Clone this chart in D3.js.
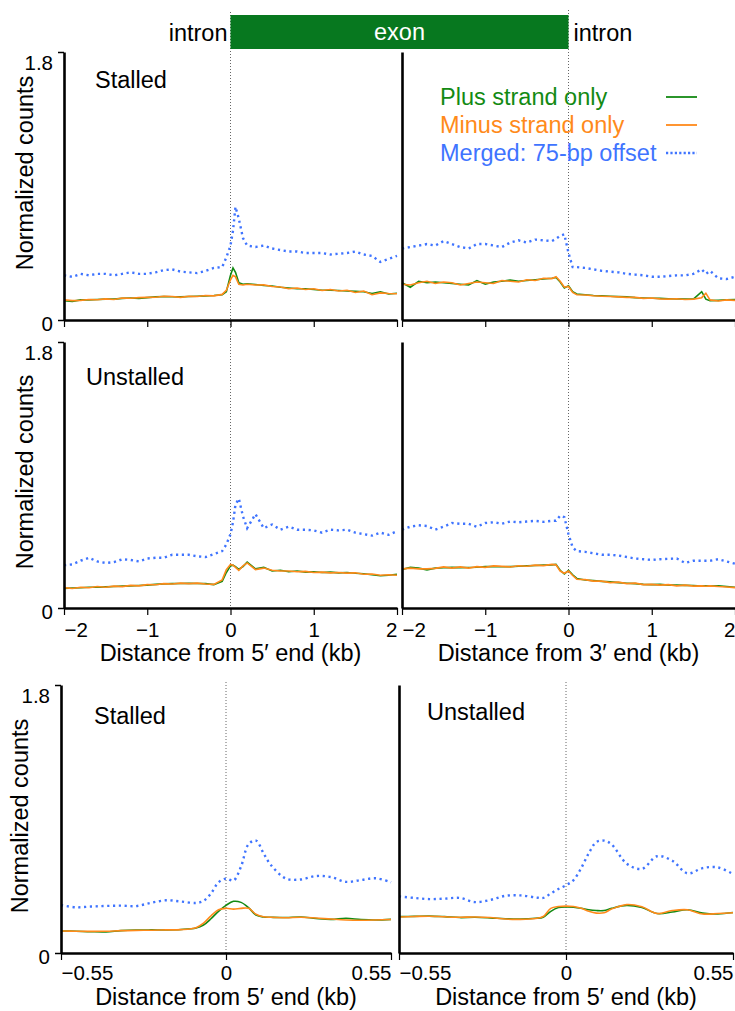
<!DOCTYPE html>
<html>
<head>
<meta charset="utf-8">
<script src="https://cdn.jsdelivr.net/npm/d3@7"></script>
<style>
  body { margin: 0; background: #fff; }
  svg { display: block; font-family: "Liberation Sans", Arial, sans-serif; }
</style>
</head>
<body>
<svg id="chart" width="735" height="1011"></svg>
<script>
// ---- data ----
const X5 = [-2,-1.9,-1.8,-1.7,-1.6,-1.5,-1.4,-1.3,-1.2,-1.1,-1,-0.9,-0.8,-0.7,-0.6,-0.5,-0.4,-0.3,-0.2,-0.1,
  -0.05,0,0.03,0.06,0.1,0.15,0.2,0.3,0.4,0.5,0.6,0.7,0.8,0.9,1,1.1,1.2,1.3,1.4,1.5,1.6,1.7,1.8,1.9,2]
const X3 = [-2,-1.9,-1.8,-1.7,-1.6,-1.5,-1.4,-1.3,-1.2,-1.1,-1,-0.9,-0.8,-0.7,-0.6,-0.5,-0.4,-0.3,-0.2,
  -0.15,-0.1,-0.05,0,0.05,0.1,0.2,0.3,0.4,0.5,0.6,0.7,0.8,0.9,1,1.1,1.2,1.3,1.4,1.5,1.6,1.65,1.7,1.8,1.9,2]
const XB = [-0.55,-0.5,-0.45,-0.4,-0.35,-0.3,-0.25,-0.2,-0.15,-0.1,-0.075,-0.05,-0.025,0,0.025,0.05,0.075,0.1,0.125,0.15,
  0.2,0.25,0.3,0.35,0.4,0.45,0.5,0.55]

// stalled, 5' end
const stalled5Merged = [0.30,0.29,0.31,0.30,0.31,0.31,0.30,0.31,0.32,0.31, 0.31,0.32,0.335,0.34,0.325,0.32,0.315,0.33,0.35,0.355,
  0.42,0.50,0.60,0.76,0.68,0.55,0.50, 0.49,0.50,0.48,0.47,0.46,0.46,0.45,0.45,0.45, 0.44,0.445,0.45,0.46,0.44,0.43,0.39,0.41,0.43]
const stalled5Plus = [0.13,0.125,0.135,0.135,0.138,0.14,0.14,0.145,0.148,0.145, 0.15,0.155,0.158,0.156,0.155,0.158,0.16,0.162,0.165,0.17,
  0.19,0.30,0.35,0.32,0.25,0.24,0.243, 0.238,0.232,0.228,0.22,0.215,0.21,0.21,0.205,0.20, 0.20,0.198,0.195,0.192,0.19,0.178,0.19,0.175,0.18]
const stalled5Minus = [0.135,0.13,0.132,0.138,0.136,0.142,0.138,0.148,0.146,0.15, 0.152,0.153,0.16,0.158,0.152,0.16,0.158,0.165,0.162,0.172,
  0.20,0.27,0.30,0.29,0.24,0.235,0.24, 0.235,0.236,0.225,0.222,0.21,0.215,0.205,0.21,0.198, 0.205,0.195,0.2,0.185,0.195,0.17,0.182,0.178,0.176]

// stalled, 3' end
const stalled3Merged = [0.48,0.49,0.50,0.51,0.50,0.53,0.51,0.49,0.48,0.51, 0.51,0.50,0.49,0.52,0.535,0.52,0.54,0.535,0.53,
  0.545,0.565,0.575,0.45,0.355,0.355, 0.35,0.34,0.33,0.325,0.32,0.31,0.305,0.30,0.29,0.29,0.295,0.30,0.30,0.31,0.34,
  0.31,0.33,0.28,0.275,0.29]
const stalled3Plus = [0.25,0.22,0.26,0.25,0.255,0.25,0.245,0.24,0.235,0.265, 0.24,0.255,0.26,0.268,0.26,0.265,0.27,0.275,0.28,
  0.285,0.255,0.215,0.23,0.19,0.175, 0.17,0.165,0.162,0.16,0.157,0.155,0.15,0.148,0.146,0.145,0.143,0.142,0.141,0.14,0.19,
  0.14,0.13,0.132,0.135,0.138]
const stalled3Minus = [0.24,0.235,0.25,0.26,0.245,0.255,0.25,0.235,0.245,0.255, 0.25,0.245,0.265,0.26,0.255,0.27,0.265,0.28,0.278,
  0.29,0.26,0.22,0.225,0.185,0.17, 0.168,0.163,0.16,0.158,0.155,0.152,0.152,0.145,0.148,0.142,0.14,0.143,0.138,0.14,0.15,
  0.18,0.135,0.128,0.135,0.132]

// unstalled, 5' end
const unstalled5Merged = [0.29,0.295,0.32,0.34,0.315,0.305,0.31,0.33,0.325,0.315, 0.335,0.34,0.34,0.36,0.36,0.36,0.35,0.345,0.365,0.385,
  0.43,0.50,0.58,0.70,0.74,0.62,0.54, 0.635,0.54,0.565,0.53,0.55,0.53,0.53,0.525,0.51, 0.53,0.525,0.53,0.51,0.50,0.49,0.51,0.495,0.52]
const unstalled5Plus = [0.133,0.135,0.137,0.14,0.14,0.143,0.145,0.148,0.15,0.152, 0.155,0.16,0.163,0.165,0.166,0.167,0.166,0.165,0.158,0.18,
  0.24,0.285,0.29,0.28,0.262,0.28,0.31, 0.265,0.275,0.25,0.255,0.245,0.25,0.243,0.245,0.24, 0.243,0.238,0.24,0.235,0.232,0.225,0.218,0.222,0.228]
const unstalled5Minus = [0.138,0.132,0.14,0.137,0.145,0.14,0.148,0.145,0.153,0.15, 0.158,0.157,0.165,0.162,0.168,0.165,0.168,0.162,0.16,0.19,
  0.26,0.295,0.29,0.275,0.255,0.285,0.305, 0.26,0.27,0.255,0.25,0.25,0.245,0.248,0.24,0.243, 0.238,0.24,0.236,0.238,0.228,0.23,0.222,0.225,0.222]

// unstalled, 3' end
const unstalled3Merged = [0.53,0.55,0.56,0.555,0.53,0.55,0.575,0.57,0.57,0.55, 0.575,0.58,0.57,0.585,0.58,0.585,0.59,0.583,0.59,
  0.59,0.625,0.615,0.50,0.41,0.385, 0.38,0.37,0.36,0.36,0.355,0.345,0.335,0.33,0.325,0.33,0.333,0.335,0.305,0.32,0.32,
  0.32,0.32,0.33,0.315,0.30]
const unstalled3Plus = [0.26,0.275,0.27,0.258,0.27,0.272,0.275,0.273,0.274,0.276, 0.28,0.28,0.279,0.28,0.283,0.285,0.288,0.29,0.292,
  0.295,0.255,0.23,0.255,0.225,0.20, 0.19,0.185,0.18,0.177,0.172,0.168,0.165,0.16,0.158,0.16,0.155,0.155,0.153,0.152,0.148,
  0.15,0.148,0.15,0.145,0.14]
const unstalled3Minus = [0.265,0.27,0.265,0.265,0.268,0.278,0.27,0.278,0.27,0.28, 0.275,0.285,0.282,0.278,0.286,0.283,0.29,0.287,0.295,
  0.292,0.25,0.235,0.25,0.22,0.195, 0.192,0.182,0.182,0.172,0.175,0.165,0.168,0.158,0.16,0.155,0.158,0.15,0.155,0.148,0.15,
  0.147,0.15,0.145,0.142,0.138]

// bottom row, +/-0.55 kb around 5' end
const stalledBMerged = [0.322,0.307,0.312,0.316,0.318,0.315,0.337,0.354,0.346,0.336,
  0.35,0.40,0.475,0.50,0.487,0.58,0.73,0.755,0.67,0.59, 0.50,0.494,0.517,0.51,0.478,0.49,0.502,0.475]
const stalledBPlus = [0.148,0.146,0.143,0.142,0.15,0.154,0.155,0.155,0.158,0.168,
  0.188,0.23,0.28,0.32,0.347,0.34,0.305,0.255,0.242,0.24, 0.238,0.242,0.232,0.226,0.233,0.225,0.222,0.226]
const stalledBMinus = [0.148,0.146,0.145,0.146,0.15,0.152,0.153,0.155,0.157,0.17,
  0.20,0.25,0.29,0.30,0.295,0.30,0.30,0.26,0.243,0.24, 0.237,0.24,0.235,0.228,0.222,0.22,0.222,0.225]
const unstalledBMerged = [0.38,0.37,0.362,0.365,0.37,0.342,0.356,0.384,0.387,0.373,
  0.37,0.40,0.43,0.455,0.49,0.57,0.67,0.745,0.755,0.73, 0.60,0.565,0.65,0.62,0.535,0.57,0.575,0.53]
const unstalledBPlus = [0.244,0.246,0.248,0.244,0.238,0.24,0.236,0.23,0.228,0.233,
  0.24,0.28,0.305,0.31,0.307,0.30,0.29,0.285,0.285,0.30, 0.32,0.305,0.265,0.275,0.29,0.268,0.262,0.272]
const unstalledBMinus = [0.242,0.245,0.247,0.243,0.24,0.242,0.238,0.228,0.226,0.232,
  0.245,0.30,0.312,0.315,0.312,0.30,0.28,0.268,0.27,0.295, 0.325,0.31,0.265,0.285,0.29,0.262,0.265,0.27]

const ticksKb = [-2, -1, 0, 1, 2]
const tickLabelsKb = ['\u22122', '\u22121', '0', '1', '2']
const ticksB = [-0.55, 0, 0.55]
const tickLabelsB = ['\u22120.55', '0', '0.55']
const yTicks = [0, 1.8]
const yTickLabels = ['0', '1.8']
const legendLabels = ['Plus strand only', 'Minus strand only', 'Merged: 75-bp offset']

// ---- styles ----
const COLORS = { plus: '#138a13', minus: '#ff8a1a', merged: '#3f74ff' }
const FONT = 23.5
const TICK_FONT = 20.5

const svg = d3.select('#chart')

const panels = [
  { xs: X5, merged: stalled5Merged, plus: stalled5Plus, minus: stalled5Minus,
    dom: [-2, 2], xr: [64, 397], yr: [320, 52], ticks: ticksKb, tickLabels: null,
    yAxisLabels: true, tag: 'Stalled', tagPos: [95, 88], zero: [12, 340], curve: d3.curveLinear,
    yTitle: [33, 173] },
  { xs: X3, merged: stalled3Merged, plus: stalled3Plus, minus: stalled3Minus,
    dom: [-2, 2], xr: [402, 735], yr: [320, 52], ticks: ticksKb, tickLabels: null,
    yAxisLabels: false, zero: [10, 340], curve: d3.curveLinear },
  { xs: X5, merged: unstalled5Merged, plus: unstalled5Plus, minus: unstalled5Minus,
    dom: [-2, 2], xr: [64, 397], yr: [608, 342], ticks: ticksKb, tickLabels: tickLabelsKb, labelDy: 29,
    yAxisLabels: true, tag: 'Unstalled', tagPos: [86, 385], zero: [338, 608], curve: d3.curveLinear,
    yTitle: [33, 472], xTitle: 'Distance from 5\u2032 end (kb)', xTitleY: 661 },
  { xs: X3, merged: unstalled3Merged, plus: unstalled3Plus, minus: unstalled3Minus,
    dom: [-2, 2], xr: [402, 735], yr: [608, 342], ticks: ticksKb, tickLabels: tickLabelsKb, labelDy: 29,
    yAxisLabels: false, zero: [338, 608], curve: d3.curveLinear,
    xTitle: 'Distance from 3\u2032 end (kb)', xTitleY: 661 },
  { xs: XB, merged: stalledBMerged, plus: stalledBPlus, minus: stalledBMinus,
    dom: [-0.55, 0.55], xr: [61, 391], yr: [953, 685], ticks: ticksB, tickLabels: tickLabelsB, labelDy: 27,
    yAxisLabels: true, tag: 'Stalled', tagPos: [94, 724], zero: [682, 953], curve: d3.curveCatmullRom,
    yTitle: [28, 816], xTitle: 'Distance from 5\u2032 end (kb)', xTitleY: 1005 },
  { xs: XB, merged: unstalledBMerged, plus: unstalledBPlus, minus: unstalledBMinus,
    dom: [-0.55, 0.55], xr: [399, 733], yr: [953, 685], ticks: ticksB, tickLabels: tickLabelsB, labelDy: 27,
    yAxisLabels: false, tag: 'Unstalled', tagPos: [427, 720], zero: [682, 953], curve: d3.curveCatmullRom,
    xTitle: 'Distance from 5\u2032 end (kb)', xTitleY: 1005 }
]

function drawPanel(p) {
  const x = d3.scaleLinear().domain(p.dom).range(p.xr)
  const y = d3.scaleLinear().domain([0, 1.8]).range(p.yr)
  const g = svg.append('g')
  p.x = x

  // dotted line at the splice site
  g.append('line')
    .attr('x1', x(0)).attr('x2', x(0))
    .attr('y1', p.zero[0]).attr('y2', p.zero[1])
    .attr('stroke', '#666').attr('stroke-width', 1)
    .attr('stroke-dasharray', '1,2')

  const line = d3.line()
    .x((d, i) => x(p.xs[i]))
    .y(d => y(d))
    .curve(p.curve)

  g.append('path').datum(p.merged)
    .attr('d', line).attr('fill', 'none')
    .attr('stroke', COLORS.merged).attr('stroke-width', 2.4)
    .attr('stroke-dasharray', '2.2,3.6')
  g.append('path').datum(p.plus)
    .attr('d', line).attr('fill', 'none')
    .attr('stroke', COLORS.plus).attr('stroke-width', 1.6)
  g.append('path').datum(p.minus)
    .attr('d', line).attr('fill', 'none')
    .attr('stroke', COLORS.minus).attr('stroke-width', 1.6)

  // x axis
  const xAxis = d3.axisBottom(x)
    .tickValues(p.ticks)
    .tickSize(7)
    .tickSizeOuter(0)
    .tickFormat((d, i) => p.tickLabels ? p.tickLabels[i] : '')
  const xg = g.append('g')
    .attr('transform', `translate(0,${p.yr[0]})`)
    .call(xAxis)
  xg.select('.domain').attr('stroke', '#000').attr('stroke-width', 2.6)
  xg.selectAll('.tick line').attr('stroke', '#000').attr('stroke-width', 1.2)
  const n = p.ticks.length
  xg.selectAll('.tick text')
    .attr('y', p.labelDy || 0).attr('dy', null)
    .attr('font-size', TICK_FONT).attr('font-family', null).attr('fill', '#000')
    .attr('text-anchor', (d, i) => i === 0 ? 'start' : (i === n - 1 ? 'end' : 'middle'))

  // y axis
  const yAxis = d3.axisLeft(y)
    .tickValues(p.yAxisLabels ? yTicks : [])
    .tickSize(6)
    .tickSizeOuter(0)
    .tickFormat((d, i) => yTickLabels[i])
  const yg = g.append('g')
    .attr('transform', `translate(${p.xr[0]},0)`)
    .call(yAxis)
  yg.select('.domain').attr('stroke', '#000').attr('stroke-width', 2.6)
  yg.selectAll('.tick line').attr('stroke', '#000').attr('stroke-width', 1.5)
  yg.selectAll('.tick text')
    .attr('x', -11).attr('dy', null)
    .attr('y', d => d === 0 ? 10 : 17)
    .attr('font-size', TICK_FONT).attr('font-family', null).attr('fill', '#000')

  if (p.yTitle) {
    g.append('text')
      .attr('transform', `translate(${p.yTitle[0]},${p.yTitle[1]}) rotate(-90)`)
      .attr('text-anchor', 'middle')
      .attr('font-size', FONT)
      .text('Normalized counts')
  }
  if (p.xTitle) {
    g.append('text')
      .attr('x', x(0)).attr('y', p.xTitleY)
      .attr('text-anchor', 'middle')
      .attr('font-size', FONT)
      .text(p.xTitle)
  }
  if (p.tag) {
    g.append('text')
      .attr('x', p.tagPos[0]).attr('y', p.tagPos[1])
      .attr('font-size', FONT)
      .text(p.tag)
  }
}

panels.forEach(drawPanel)

// ---- exon / intron header ----
const left0 = panels[0].x(0)
const right0 = panels[1].x(0)
svg.append('rect')
  .attr('x', left0).attr('y', 15)
  .attr('width', right0 - left0).attr('height', 34)
  .attr('fill', '#07781f')
svg.append('text')
  .attr('x', (left0 + right0) / 2).attr('y', 40)
  .attr('text-anchor', 'middle').attr('fill', '#fff')
  .attr('font-size', FONT).text('exon')
svg.append('text')
  .attr('x', left0 - 3).attr('y', 41)
  .attr('text-anchor', 'end').attr('font-size', FONT).text('intron')
svg.append('text')
  .attr('x', right0 + 5).attr('y', 41)
  .attr('font-size', FONT).text('intron')

// ---- legend ----
const legendKeys = ['plus', 'minus', 'merged']
const legend = svg.append('g').attr('transform', 'translate(440,0)')
legendKeys.forEach((k, i) => {
  const yBase = 105 + i * 28
  legend.append('text')
    .attr('x', 0).attr('y', yBase)
    .attr('font-size', FONT).attr('fill', COLORS[k])
    .text(legendLabels[i])
  legend.append('line')
    .attr('x1', 226).attr('x2', 257)
    .attr('y1', yBase - 8).attr('y2', yBase - 8)
    .attr('stroke', COLORS[k])
    .attr('stroke-width', k === 'merged' ? 2.4 : 1.8)
    .attr('stroke-dasharray', k === 'merged' ? '2.2,2.2' : null)
})
</script>
</body>
</html>
